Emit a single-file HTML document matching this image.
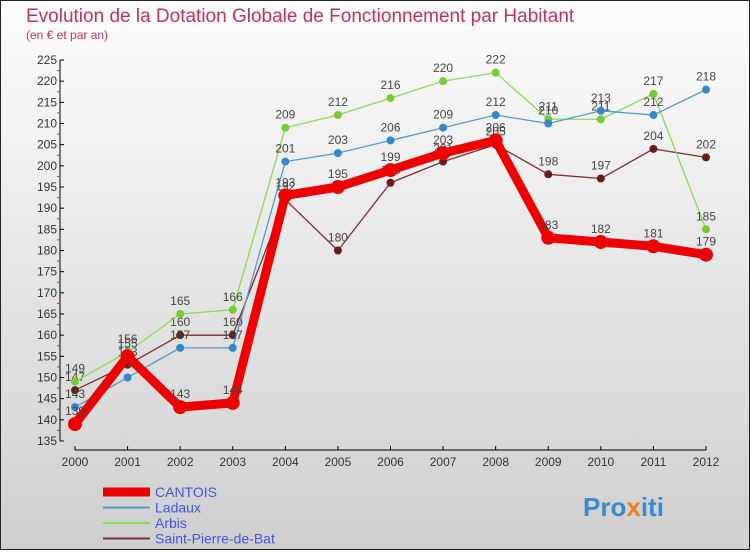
<!DOCTYPE html>
<html><head><meta charset="utf-8"><style>
body{margin:0;width:750px;height:550px;overflow:hidden;font-family:"Liberation Sans",sans-serif}
</style></head><body>
<svg width="750" height="550" xmlns="http://www.w3.org/2000/svg">
<defs><linearGradient id="bg" x1="0" y1="0" x2="0" y2="1"><stop offset="0" stop-color="#fdfdfd"/><stop offset="1" stop-color="#cfcfcf"/></linearGradient></defs>
<rect x="0.5" y="0.5" width="749" height="549" fill="url(#bg)" stroke="#222"/>
<text x="26" y="22" font-size="19" fill="#c03060">Evolution de la Dotation Globale de Fonctionnement par Habitant</text>
<text x="26" y="39" font-size="12" fill="#c03060">(en € et par an)</text>
<g id="axes"></g><g id="series"></g><g id="legend"></g>
<text x="583" y="516" font-size="26" font-weight="bold" fill="#3a8ad0">Pro<tspan fill="#f08020">x</tspan>iti</text>
</svg>
<script>
const years=[2000,2001,2002,2003,2004,2005,2006,2007,2008,2009,2010,2011,2012];
const yTicks=[135,140,145,150,155,160,165,170,175,180,185,190,195,200,205,210,215,220,225];
const cantois=[139,155,143,144,193,195,199,203,206,183,182,181,179];
const ladaux=[143,150,157,157,201,203,206,209,212,210,213,212,218];
const arbis=[149,156,165,166,209,212,216,220,222,211,211,217,185];
const stpierre=[147,153,160,160,192,180,196,201,205,198,197,204,202];
const NS="http://www.w3.org/2000/svg";
const x=i=>75+i*(631/12);
const y=v=>441-(v-135)*(381/90);
function mk(t,a,p){const e=document.createElementNS(NS,t);for(const k in a)e.setAttribute(k,a[k]);p.appendChild(e);return e;}
const ax=document.getElementById('axes');
const yl=mk('line',{x1:60,y1:y(225),x2:60,y2:y(135),stroke:'#000'},ax);


const xl=mk('line',{x1:75,y1:450,x2:706,y2:450,stroke:'#000'},ax);


yTicks.forEach(v=>{
 mk('line',{x1:60,y1:y(v),x2:64,y2:y(v),stroke:'#000'},ax);
 if(v<225)mk('line',{x1:57,y1:y(v+2.5),x2:60,y2:y(v+2.5),stroke:'#e03030'},ax);
 const t=mk('text',{x:57,y:y(v)+4,'font-size':12,'text-anchor':'end',fill:'#333'},ax);t.textContent=v;
 
 
});
years.forEach((yr,i)=>{
 mk('line',{x1:x(i),y1:446,x2:x(i),y2:450,stroke:'#000'},ax);
 const t=mk('text',{x:x(i),y:466,'font-size':12,'text-anchor':'middle',fill:'#333'},ax);t.textContent=yr;
 
 
});
const sg=document.getElementById('series');
function draw(data,color,w,r,name,dot){
 const g=mk('g',{},sg);
 
 
 const pl=mk('polyline',{points:data.map((v,i)=>x(i)+','+y(v)).join(' '),fill:'none',stroke:color,'stroke-width':w,'stroke-linejoin':'round'},g);
 
 
 data.forEach((v,i)=>{
  const c=mk('circle',{cx:x(i),cy:y(v),r:r,fill:dot},g);
  
  
  const t=mk('text',{x:x(i),y:y(v)-9,'font-size':12,'text-anchor':'middle',fill:'#444'},g);t.textContent=v;
  
  
 });
}
draw(stpierre,'#7a3030',1.3,4,'saint-pierre-de-bat','#6a1a1a');
draw(arbis,'#88dd55',1.3,4,'arbis','#77cc33');
draw(ladaux,'#5599cc',1.3,4,'ladaux','#3388cc');
draw(cantois,'#ee0000',9,7,'cantois','#ee0000');
const lg=document.getElementById('legend');
const items=[['CANTOIS','#ee0000',9],['Ladaux','#5599cc',2],['Arbis','#88dd55',2],['Saint-Pierre-de-Bat','#7a3030',2]];
items.forEach((it,k)=>{
 const yy=492+k*15.5;
 const g=mk('g',{},lg);
 
 
 mk('line',{x1:103,y1:yy,x2:150,y2:yy,stroke:it[1],'stroke-width':it[2]},g);
 const t=mk('text',{x:155,y:yy+5,'font-size':14,fill:'#4455dd'},g);t.textContent=it[0];
});
</script>
</body></html>
